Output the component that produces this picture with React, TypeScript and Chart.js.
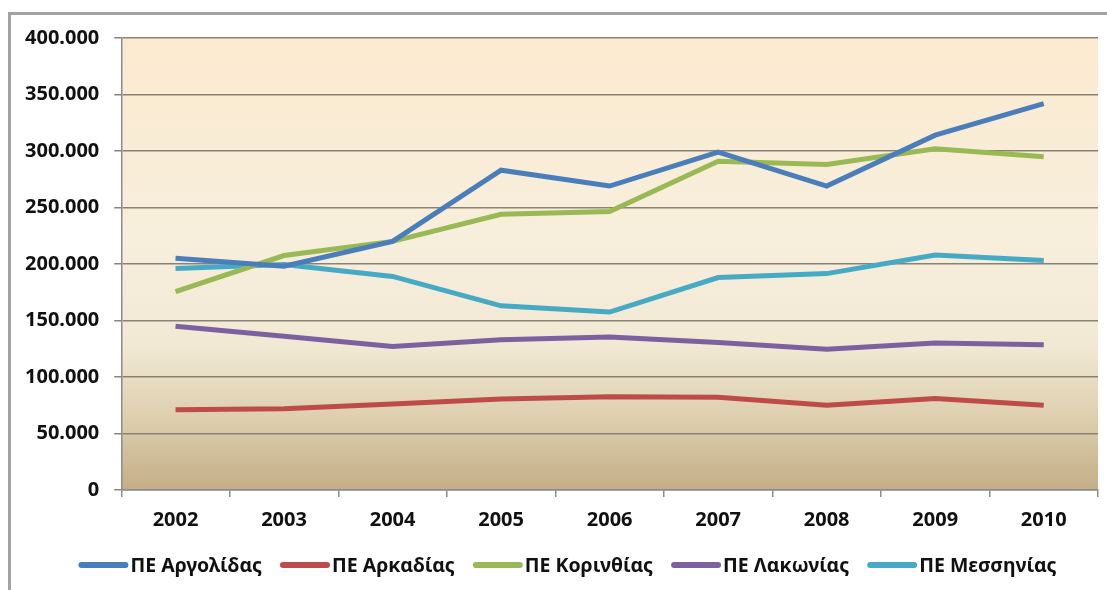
import React, { useEffect, useRef } from "react";
import { Chart, registerables } from "chart.js";

Chart.register(...registerables);

const years = ["2002", "2003", "2004", "2005", "2006", "2007", "2008", "2009", "2010"];
const argolidas = [205000, 198000, 220000, 283000, 269000, 299000, 269000, 314000, 342000];
const arkadias = [71000, 72000, 76000, 80500, 82500, 82000, 75000, 81000, 75000];
const korinthias = [175500, 207500, 220000, 244000, 246500, 291000, 288000, 302000, 295000];
const lakonias = [145000, 136000, 127000, 133000, 135500, 130500, 124500, 130000, 128500];
const messinias = [196000, 199500, 189000, 163000, 157500, 188000, 191500, 208000, 203000];
const seriesNames = ["ΠΕ Αργολίδας", "ΠΕ Αρκαδίας", "ΠΕ Κορινθίας", "ΠΕ Λακωνίας", "ΠΕ Μεσσηνίας"];
const seriesColors = ["#4a7ebb", "#be4b48", "#98b954", "#7d60a0", "#46aac5"];
const yTicks = [0, 50000, 100000, 150000, 200000, 250000, 300000, 350000, 400000];

const FONT = "'Noto Sans', 'Open Sans', sans-serif";

const bgPlugin = {
  id: "plotBg",
  beforeDraw(chart: any) {
    const { ctx, chartArea } = chart;
    if (!chartArea) return;
    const g = ctx.createLinearGradient(0, chartArea.top, 0, chartArea.bottom);
    g.addColorStop(0, "#fcead0");
    g.addColorStop(0.45, "#f7efdc");
    g.addColorStop(0.68, "#f1e9d4");
    g.addColorStop(0.85, "#dccdac");
    g.addColorStop(1, "#c3ae87");
    ctx.save();
    ctx.fillStyle = g;
    ctx.fillRect(chartArea.left, chartArea.top, chartArea.right - chartArea.left, chartArea.bottom - chartArea.top);
    ctx.restore();
  },
};

// Legend drawn on the canvas from the chart's own datasets (Excel-like spacing)
const legendPlugin = {
  id: "excelLegend",
  afterDraw(chart: any) {
    const { ctx } = chart;
    const lineLen = 50;
    const gapAfterLine = 2;
    const gapBetween = 18;
    ctx.save();
    ctx.font = `bold 19.5px ${FONT}`;
    const items = chart.data.datasets.map((ds: any) => ({
      text: ds.label as string,
      color: ds.borderColor as string,
      w: ctx.measureText(ds.label).width,
    }));
    const total =
      items.reduce((s: number, it: any) => s + lineLen + gapAfterLine + it.w, 0) + gapBetween * (items.length - 1);
    const centerX = chart.width / 2 + 14;
    const y = 565;
    let x = centerX - total / 2;
    ctx.textBaseline = "middle";
    ctx.textAlign = "left";
    items.forEach((it: any) => {
      ctx.strokeStyle = it.color;
      ctx.lineWidth = 6;
      ctx.lineCap = "round";
      ctx.beginPath();
      ctx.moveTo(x + 3, y);
      ctx.lineTo(x + lineLen - 3, y);
      ctx.stroke();
      ctx.fillStyle = "#111";
      ctx.fillText(it.text, x + lineLen + gapAfterLine, y + 1);
      x += lineLen + gapAfterLine + it.w + gapBetween;
    });
    ctx.restore();
  },
};

function fmt(v: number) {
  if (v === 0) return "0";
  const s = String(v);
  return s.replace(/\B(?=(\d{3})+(?!\d))/g, ".");
}

export default function App() {
  const ref = useRef<HTMLCanvasElement>(null);
  useEffect(() => {
    if (!ref.current) return;
    const data = [argolidas, arkadias, korinthias, lakonias, messinias];
    const chart = new Chart(ref.current, {
      type: "line",
      data: {
        labels: years,
        datasets: data.map((d, i) => ({
          label: seriesNames[i],
          data: d,
          borderColor: seriesColors[i],
          backgroundColor: seriesColors[i],
          borderWidth: 5,
          pointRadius: 0,
          tension: 0,
          fill: false,
        })),
      },
      options: {
        animation: false,
        responsive: false,
        maintainAspectRatio: false,
        layout: { padding: { left: 10, top: 38, right: 9, bottom: 47 } },
        plugins: {
          tooltip: { enabled: false },
          legend: { display: false },
        },
        scales: {
          x: {
            offset: true,
            grid: {
              offset: true,
              drawOnChartArea: false,
              drawTicks: true,
              tickLength: 7,
              color: "#8c8c8c",
              lineWidth: 1.5,
            },
            border: { color: "#8c8c8c", width: 1.5 },
            ticks: {
              color: "#111",
              padding: 11,
              font: { family: FONT, size: 20, weight: "bold" },
            },
          },
          y: {
            min: 0,
            max: 400000,
            afterBuildTicks: (axis: any) => {
              axis.ticks = yTicks.map((v) => ({ value: v }));
            },
            grid: {
              color: "#8a8274",
              lineWidth: 1.5,
              tickLength: 7,
            },
            border: { color: "#8c8c8c", width: 1.5 },
            ticks: {
              color: "#111",
              padding: 15,
              font: { family: FONT, size: 20, weight: "bold" },
              callback: (v: any) => fmt(Number(v)),
            },
          },
        },
      },
      plugins: [bgPlugin, legendPlugin],
    });
    return () => chart.destroy();
  }, []);

  return (
    <div style={{ position: "fixed", left: 0, top: 0, width: 1107, height: 590, overflow: "hidden", background: "#fff" }}>
      <div
        style={{
          position: "absolute",
          left: 8,
          top: 12,
          width: 1300,
          height: 800,
          border: "3px solid #a3a3a3",
          boxSizing: "border-box",
        }}
      />
      <canvas ref={ref} width={1107} height={590} style={{ position: "absolute", left: 0, top: 0, width: 1107, height: 590 }} />
    </div>
  );
}
